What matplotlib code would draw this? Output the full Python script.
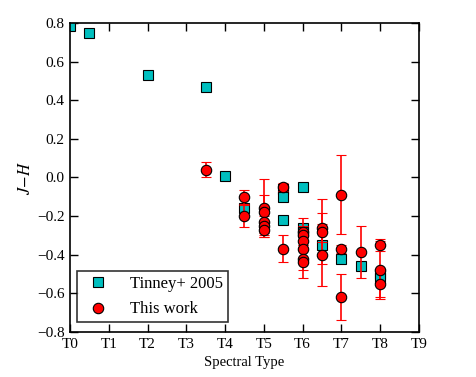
import matplotlib
matplotlib.use("Agg")
import matplotlib.pyplot as plt
import numpy as np

plt.rcParams['font.family'] = ['Liberation Serif', 'DejaVu Serif']
plt.rcParams['mathtext.fontset'] = 'stix'

# Tinney+ 2005
tinney_sp = [0, 0.5, 2, 3.5, 4, 4.5, 5.5, 5.5, 5.5, 6, 6, 6, 6.5, 7, 7.5, 8, 8]
tinney_jh = [0.785, 0.75, 0.53, 0.47, 0.01, -0.16, -0.06, -0.10, -0.22, -0.05, -0.26, -0.28,
             -0.35, -0.42, -0.46, -0.50, -0.52]

# This work
work_sp = [3.5, 4.5, 4.5, 5, 5, 5, 5, 5, 5.5, 5.5,
           6, 6, 6, 6, 6, 6, 6.5, 6.5, 6.5, 7, 7, 7, 7.5, 8, 8, 8]
work_jh = [0.04, -0.10, -0.20, -0.16, -0.18, -0.23, -0.25, -0.27, -0.05, -0.37,
           -0.28, -0.30, -0.33, -0.37, -0.42, -0.44, -0.26, -0.28, -0.40, -0.09, -0.37, -0.62,
           -0.385, -0.35, -0.48, -0.55]
work_err = [0.04, 0.035, 0.057, 0.15, 0.09, 0.06, 0.05, 0.04, 0.02, 0.07,
            0.07, 0.05, 0.04, 0.06, 0.06, 0.08, 0.075, 0.17, 0.16, 0.205, 0.02, 0.12,
            0.133, 0.03, 0.15, 0.07]

xticks = list(range(10))
xticklabels = ['T%d' % i for i in xticks]
yticks = [-0.8, -0.6, -0.4, -0.2, 0.0, 0.2, 0.4, 0.6, 0.8]

fig = plt.figure(figsize=(4.76, 3.77), dpi=100)
ax = fig.add_axes([0.147, 0.1194, 0.733, 0.8196])

tin, = ax.plot(tinney_sp, tinney_jh, 's', color='c', mec='k', mew=0.8, ms=6.5,
               label='Tinney+ 2005', zorder=2)
eb = ax.errorbar(work_sp, work_jh, yerr=work_err, fmt='o', color='r', ecolor='r',
                 mec='k', mew=0.8, ms=7.5, capsize=3.5, elinewidth=1.2, capthick=1,
                 zorder=3)
eb[0].set_label('This work')

ax.set_xlim(0, 9)
ax.set_ylim(-0.8, 0.8)
ax.set_xticks(xticks)
ax.set_xticklabels(xticklabels)
ax.set_yticks(yticks)
ax.set_yticklabels(['\u2212%.1f' % abs(v) if v < 0 else '%.1f' % v for v in yticks])
ax.tick_params(direction='in', top=True, right=True, length=6, width=1,
               labelsize=11, pad=4)
for s in ax.spines.values():
    s.set_linewidth(1.2)

ax.set_xlabel('Spectral Type', fontsize=10.5, labelpad=4)
ax.set_ylabel('$J\\!-\\!H$', fontsize=12, labelpad=2)

leg = ax.legend(handles=[tin, eb[0]], loc='lower left', numpoints=1, fontsize=12,
                frameon=True, fancybox=False, edgecolor='k', borderpad=0.3,
                handletextpad=0.9, handlelength=2.0, labelspacing=0.55,
                bbox_to_anchor=(0.01, 0.02), borderaxespad=0.2)
leg.get_frame().set_linewidth(1.2)

fig.savefig('out.png', dpi=100)
